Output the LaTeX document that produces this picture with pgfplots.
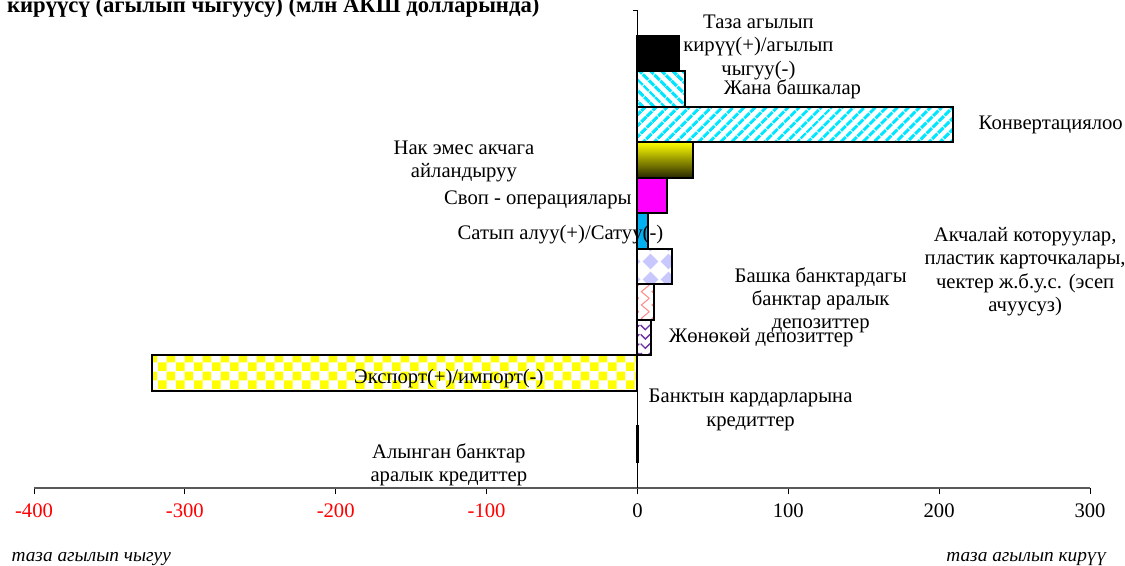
\documentclass[border=0pt]{standalone}
\usepackage{fontspec}
\setmainfont{Liberation Serif}
\usepackage{pgfplots}
\pgfplotsset{compat=1.18}
\usetikzlibrary{patterns,patterns.meta}

\pgfdeclarepatternformonly{mychecker}{\pgfqpoint{0pt}{0pt}}{\pgfqpoint{13.2pt}{13.2pt}}{\pgfqpoint{13.2pt}{13.2pt}}{%
  \pgfpathrectangle{\pgfqpoint{0pt}{0pt}}{\pgfqpoint{6.6pt}{6.6pt}}%
  \pgfpathrectangle{\pgfqpoint{6.6pt}{6.6pt}}{\pgfqpoint{6.6pt}{6.6pt}}%
  \pgfusepath{fill}}
\pgfdeclarepatternformonly{mydiamonds}{\pgfqpoint{0pt}{0pt}}{\pgfqpoint{13pt}{13pt}}{\pgfqpoint{13pt}{13pt}}{%
  \pgfpathmoveto{\pgfqpoint{6.5pt}{0.5pt}}\pgfpathlineto{\pgfqpoint{12.5pt}{6.5pt}}%
  \pgfpathlineto{\pgfqpoint{6.5pt}{12.5pt}}\pgfpathlineto{\pgfqpoint{0.5pt}{6.5pt}}%
  \pgfpathclose\pgfusepath{fill}}
\pgfdeclarepatternformonly{myzigzag}{\pgfqpoint{-1pt}{-1pt}}{\pgfqpoint{9pt}{11pt}}{\pgfqpoint{8pt}{10pt}}{%
  \pgfsetlinewidth{0.8pt}\pgfpathmoveto{\pgfqpoint{7pt}{0pt}}\pgfpathlineto{\pgfqpoint{1pt}{5pt}}%
  \pgfpathlineto{\pgfqpoint{7pt}{10pt}}\pgfusepath{stroke}}
\pgfdeclarepatternformonly{mychevron}{\pgfqpoint{-1pt}{-1pt}}{\pgfqpoint{9pt}{8pt}}{\pgfqpoint{8pt}{7pt}}{%
  \pgfsetlinewidth{1pt}\pgfpathmoveto{\pgfqpoint{0.5pt}{5pt}}\pgfpathlineto{\pgfqpoint{4pt}{1.5pt}}%
  \pgfpathlineto{\pgfqpoint{7.5pt}{5pt}}\pgfusepath{stroke}}

\definecolor{skyb}{RGB}{0,176,240}
\definecolor{lav}{RGB}{200,200,255}
\definecolor{pinkz}{RGB}{255,140,140}
\definecolor{purp}{RGB}{112,48,160}
\definecolor{olive2}{RGB}{40,40,0}
\definecolor{mag}{RGB}{255,0,255}
\definecolor{cyn}{RGB}{0,230,255}
\definecolor{yel}{RGB}{255,255,0}

\newcommand\lf{\fontsize{15.5pt}{17.5pt}\selectfont}

\begin{document}
\begin{tikzpicture}
\useasboundingbox (-25.5pt,-57.75pt) rectangle (818.25pt,366pt);
\begin{axis}[
  at={(0,0)}, anchor=south west,
  scale only axis, width=792pt, height=358.5pt,
  xmin=-400, xmax=300, ymin=-0.241, ymax=13.224,
  axis x line*=bottom, axis y line=none,
  xtick={-400,-300,...,300},
  xticklabels={{\textcolor{red}{-400}},{\textcolor{red}{-300}},{\textcolor{red}{-200}},{\textcolor{red}{-100}},0,100,200,300},
  xticklabel style={font=\lf, yshift=-4pt},
  tick align=outside, major tick length=4.5pt,
  x axis line style={draw=gray!70!black, line width=1.2pt},
  every tick/.style={black, line width=0.6pt},
  ytick=\empty,
  clip=false,
  xbar, bar width=1, bar shift=0,
  mybar/.style={draw=black, line width=1.5pt, bar shift=0},
]
% top to bottom
\addplot[mybar, fill=black] coordinates {(27.5,12)};
\addplot[mybar, pattern={Lines[angle=-45,distance=6.5pt,line width=2.8pt]}, pattern color=cyn] coordinates {(31.5,11)};
\addplot[mybar, pattern={Lines[angle=45,distance=6.5pt,line width=2.6pt]}, pattern color=cyn] coordinates {(209,10)};
\addplot[mybar, top color=yel, bottom color=olive2] coordinates {(37,9)};
\addplot[mybar, fill=mag] coordinates {(19.4,8)};
\addplot[mybar, fill=skyb] coordinates {(7.3,7)};
\addplot[mybar, pattern=mydiamonds, pattern color=lav] coordinates {(22.7,6)};
\addplot[mybar, pattern=myzigzag, pattern color=pinkz] coordinates {(11.3,5)};
\addplot[mybar, pattern=mychevron, pattern color=purp] coordinates {(9,4)};
\addplot[mybar, pattern=mychecker, pattern color=yel] coordinates {(-322,3)};
\addplot[mybar, draw=none] coordinates {(0,2)};
\addplot[mybar, fill=black] coordinates {(0.6,1)};

\draw[black, line width=0.6pt] (axis cs:0,-0.241) -- (axis cs:0,13.224);
\draw[black, line width=0.6pt] (axis cs:0,13.224) -- (axis cs:-3,13.224);

\node[font=\lf, align=center] at (axis cs:80.2,12.17) {Таза агылып\\кирүү(+)/агылып\\чыгуу(-)};
\node[font=\lf] at (axis cs:102.8,11) {Жана башкалар};
\node[font=\lf] at (axis cs:274,10) {Конвертациялоо};
\node[font=\lf, align=center] at (axis cs:-115,8.96) {Нак эмес акчага\\айландыруу};
\node[font=\lf] at (axis cs:-66,7.87) {Своп - операциялары};
\node[font=\lf] at (axis cs:-51,6.89) {Сатып алуу(+)/Сатуу(-)};
\node[font=\lf, align=center] at (axis cs:257,5.85) {Акчалай которуулар,\\пластик карточкалары,\\чектер ж.б.у.с. (эсеп\\ачуусуз)};
\node[font=\lf, align=center] at (axis cs:121.5,5.05) {Башка банктардагы\\банктар аралык\\депозиттер};
\node[font=\lf] at (axis cs:82,4) {Жөнөкөй депозиттер};
\node[font=\lf] at (axis cs:-125,2.85) {Экспорт(+)/импорт(-)};
\node[font=\lf, align=center] at (axis cs:75,1.96) {Банктын кардарларына\\кредиттер};
\node[font=\lf, align=center] at (axis cs:-125,0.41) {Алынган банктар\\аралык кредиттер};

\node[font=\fontsize{17pt}{20pt}\selectfont\bfseries, anchor=base west, inner sep=0pt] at (axis cs:-418,13.14) {кирүүсү (агылып чыгуусу) (млн АКШ долларында)};
\node[font=\fontsize{14.5pt}{17pt}\selectfont\itshape, anchor=base west, inner sep=0pt] at (axis cs:-415,-2.31) {таза агылып чыгуу};
\node[font=\fontsize{14.5pt}{17pt}\selectfont\itshape, anchor=base east, inner sep=0pt] at (axis cs:311,-2.31) {таза агылып кирүү};
\end{axis}
\end{tikzpicture}
\end{document}
